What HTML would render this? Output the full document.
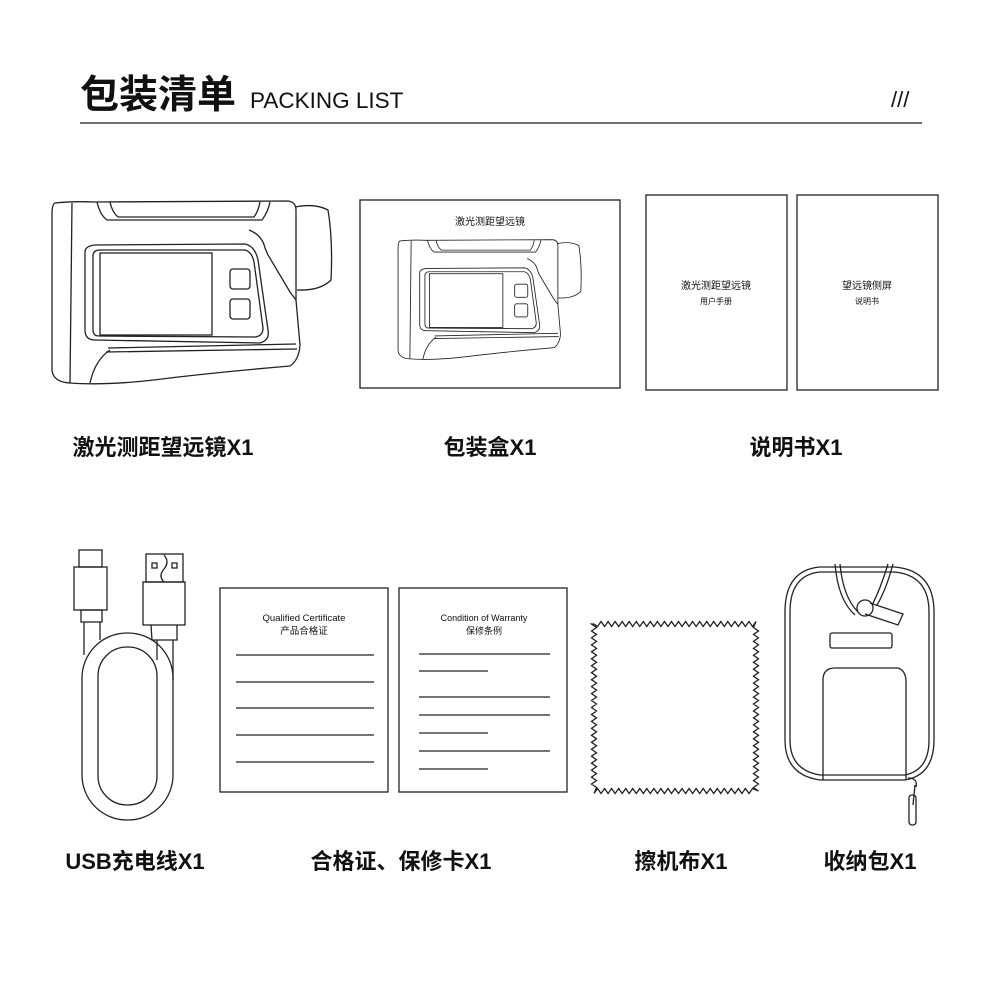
<!DOCTYPE html>
<html><head><meta charset="utf-8"><style>
html,body{margin:0;padding:0;background:#fff;}
svg{display:block}
text{font-family:"Liberation Sans","Noto Sans CJK SC",sans-serif;fill:#111}
.lb{font-size:22px;font-weight:bold}
</style></head><body>
<svg width="990" height="990" viewBox="0 0 990 990" xmlns="http://www.w3.org/2000/svg">
<defs>
<g id="rf" fill="none" stroke="#222" stroke-width="1.3">
  <path d="M55 203 Q72 201 95 202 L288 201 Q296 202 296 210 L296 300 L300 345 Q299 360 290 366 Q220 372 170 378 Q110 386 70 383 Q53 382 52 370 L52 215 Q52 204 55 203Z" fill="#fff"/>
  <path d="M295 207 Q315 203 328 210 Q333 240 331 280 Q320 291 297 290"/>
  <path d="M72 203 L70 383"/>
  <path d="M97 202 Q100 215 107 220 L262 220 Q268 212 270 202"/>
  <path d="M110 202 Q112 212 118 217 L254 217 Q258 212 260 202"/>
  <path d="M249 230 Q262 235 265 248 L268 255 L290 292 L296 300"/>
  <path d="M85 252 Q85 246 95 245 L245 244 Q255 246 258 260 L268 330 Q270 340 260 343 L95 340 Q85 340 85 330Z"/>
  <path d="M93 256 Q93 250 100 250 L245 250 Q252 252 254 262 L263 328 Q263 336 255 337 L99 336 Q93 336 93 330Z"/>
  <rect x="100" y="253" width="112" height="82"/>
  <rect x="230" y="269" width="20" height="20" rx="3"/>
  <rect x="230" y="299" width="20" height="20" rx="3"/>
  <path d="M108 348 L296 344 M106 352 L297 349"/>
  <path d="M90 383 Q95 360 110 350"/>
</g>
</defs>
<text x="80" y="108" font-size="39" font-weight="bold">包装清单</text>
<text x="250" y="108" font-size="22.5">PACKING LIST</text>
<text x="891" y="107" font-size="22">///</text>
<line x1="80" y1="123" x2="922" y2="123" stroke="#444" stroke-width="1.5"/>

<use href="#rf"/>
<rect x="360" y="200" width="260" height="188" fill="none" stroke="#222" stroke-width="1.3"/>
<text x="490" y="225" font-size="10" text-anchor="middle">激光测距望远镜</text>
<g transform="translate(364,108) scale(0.655)"><use href="#rf"/></g>

<rect x="646" y="195" width="141" height="195" fill="none" stroke="#222" stroke-width="1.3"/>
<rect x="797" y="195" width="141" height="195" fill="none" stroke="#222" stroke-width="1.3"/>
<text x="716" y="289" font-size="10" text-anchor="middle">激光测距望远镜</text>
<text x="716" y="304" font-size="8" text-anchor="middle">用户手册</text>
<text x="867" y="289" font-size="10" text-anchor="middle">望远镜侧屏</text>
<text x="867" y="304" font-size="8" text-anchor="middle">说明书</text>

<text class="lb" x="163" y="455" text-anchor="middle">激光测距望远镜X1</text>
<text class="lb" x="490" y="455" text-anchor="middle">包装盒X1</text>
<text class="lb" x="796" y="455" text-anchor="middle">说明书X1</text>

<!-- cable -->
<g fill="none" stroke="#222" stroke-width="1.3">
  <rect x="79" y="550" width="23" height="17"/>
  <rect x="74" y="567" width="33" height="43"/>
  <rect x="81" y="610" width="21" height="12"/>
  <path d="M84 622 L84 655 M100 622 L100 640"/>
  <rect x="146" y="554" width="37" height="28"/>
  <rect x="152" y="563" width="5" height="5"/><rect x="172" y="563" width="5" height="5"/>
  <path d="M164 555 Q170 562 164 569 Q158 576 164 582"/>
  <rect x="143" y="582" width="42" height="43"/>
  <path d="M151 625 L152 640 L177 640 L177 625"/>
  <rect x="82" y="633" width="91" height="187" rx="45"/>
  <rect x="98" y="647" width="59" height="158" rx="29"/>
  <path d="M157 640 L157 660 M173 640 L173 680"/>
</g>

<!-- certificate cards -->
<g fill="none" stroke="#222" stroke-width="1.3">
  <rect x="220" y="588" width="168" height="204"/>
  <rect x="399" y="588" width="168" height="204"/>
  <path d="M236 655H374M236 682H374M236 708H374M236 735H374M236 762H374"/>
  <path d="M419 654H550M419 671H488M419 697H550M419 715H550M419 733H488M419 751H550M419 769H488"/>
</g>
<text x="304" y="621" font-size="9.5" text-anchor="middle">Qualified Certificate</text>
<text x="304" y="634" font-size="9.5" text-anchor="middle">产品合格证</text>
<text x="484" y="621" font-size="9" text-anchor="middle">Condition of Warranty</text>
<text x="484" y="634" font-size="9" text-anchor="middle">保修条例</text>

<!-- cloth -->
<path id="zz" fill="none" stroke="#222" stroke-width="1.3" d=""/>

<!-- case -->
<g fill="none" stroke="#222" stroke-width="1.3">
  <path d="M820 567 L894 567 Q934 570 934 612 L934 740 Q934 775 905 780 L820 780 Q785 775 785 740 L785 612 Q785 570 820 567Z"/>
  <path d="M820 572 L894 572 Q929 575 929 612 L929 740 Q929 770 905 775 L820 775 Q790 770 790 740 L790 612 Q790 575 820 572Z"/>
  <path d="M835 564 Q838 600 855 615 M840 564 Q843 597 858 612"/>
  <path d="M888 564 Q880 590 872 605 M893 564 Q886 590 877 605"/>
  <circle cx="865" cy="608" r="8" fill="#fff"/>
  <path d="M870 603 L903 614 L898 625 L865 614"/>
  <rect x="830" y="633" width="62" height="15" rx="2"/>
  <path d="M823 780 L823 680 Q823 668 835 668 L898 668 Q905 670 906 680 L906 780"/>
  <path d="M908 778 Q918 778 916 787 M915 785 L913 805"/>
  <rect x="909" y="795" width="7" height="30" rx="3"/>
</g>

<text class="lb" x="135" y="869" text-anchor="middle">USB充电线X1</text>
<text class="lb" x="401" y="869" text-anchor="middle">合格证、保修卡X1</text>
<text class="lb" x="681" y="869" text-anchor="middle">擦机布X1</text>
<text class="lb" x="870" y="869" text-anchor="middle">收纳包X1</text>
</svg>
<script>
(function(){
var x0=594,y0=624,x1=756,y1=791,p=7,a=2.5,d="M"+x0+" "+y0;
function edge(ax,ay,bx,by,nx,ny){var L=Math.hypot(bx-ax,by-ay),n=Math.round(L/p),s="";
for(var i=1;i<=n*2;i++){var t=i/(n*2),o=(i%2)?a:-a;s+=" L"+(ax+(bx-ax)*t+nx*o).toFixed(1)+" "+(ay+(by-ay)*t+ny*o).toFixed(1);}return s;}
d+=edge(x0,y0,x1,y0,0,1)+edge(x1,y0,x1,y1,-1,0)+edge(x1,y1,x0,y1,0,-1)+edge(x0,y1,x0,y0,1,0)+"Z";
document.getElementById("zz").setAttribute("d",d);
})();
</script>
</body></html>
